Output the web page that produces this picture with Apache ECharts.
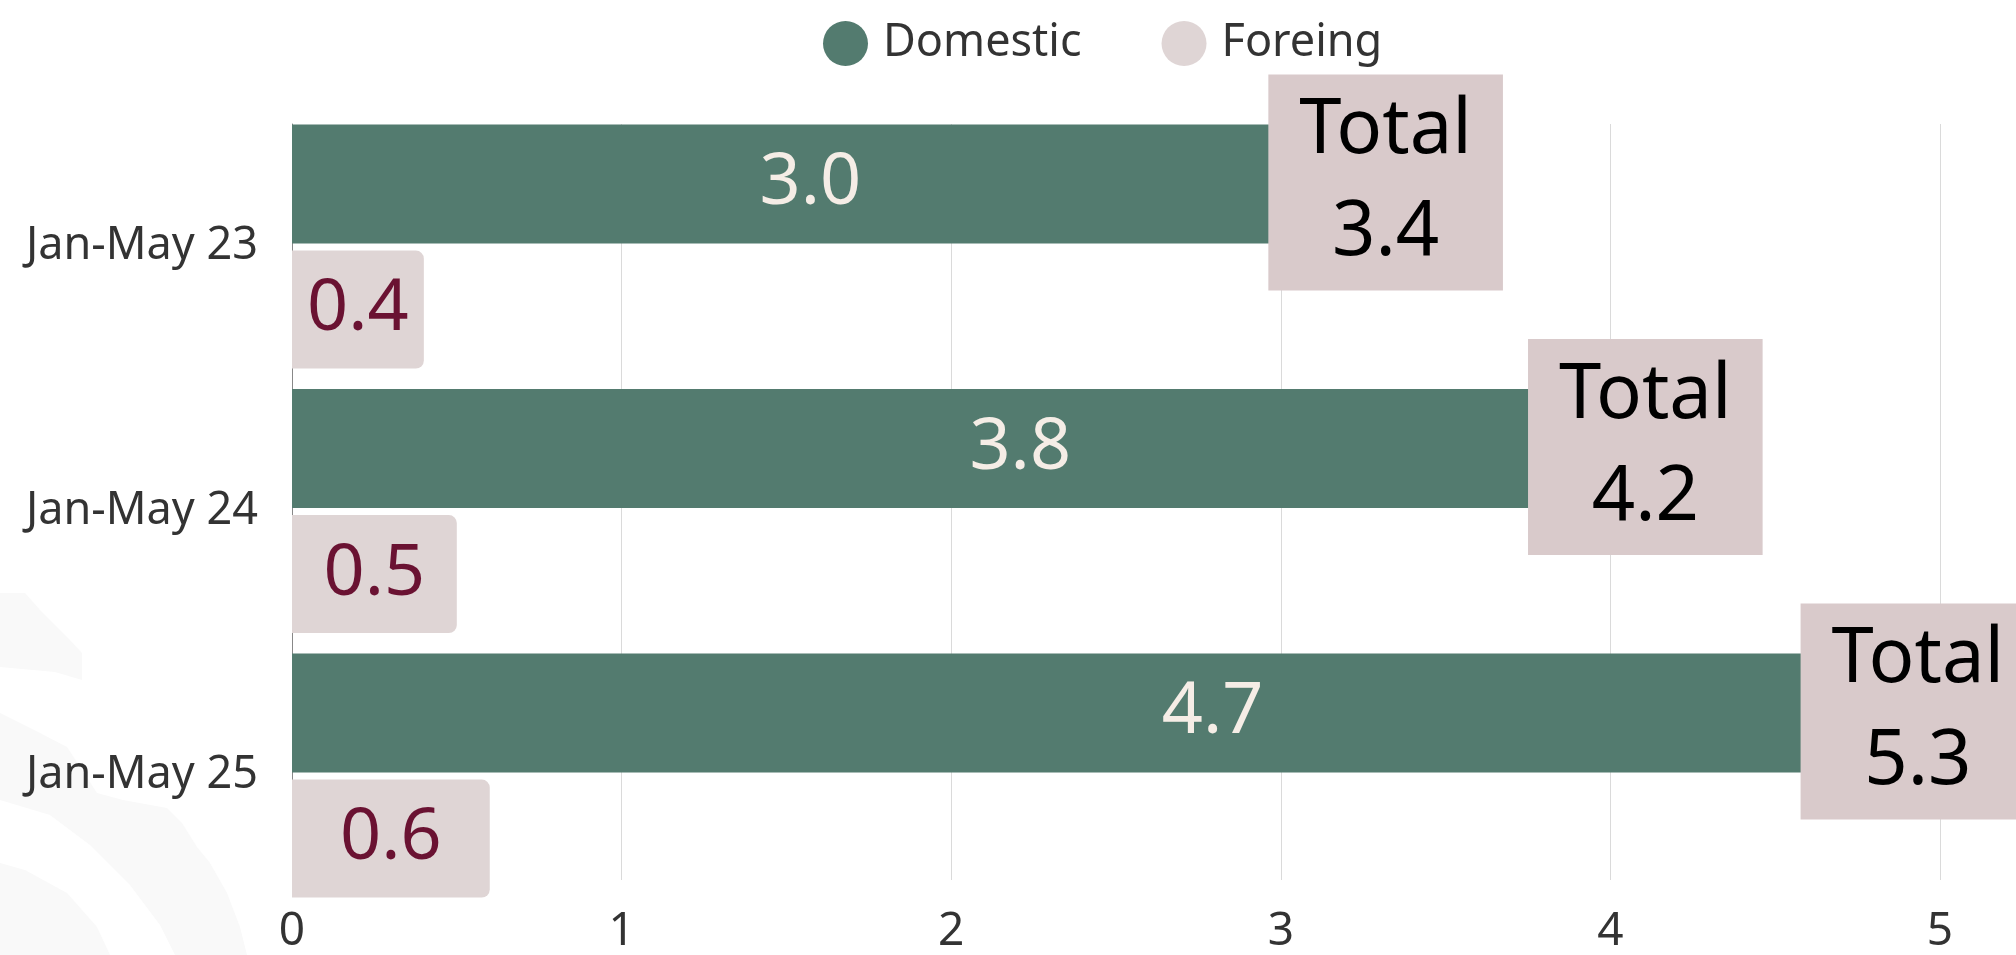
<!DOCTYPE html>
<html>
<head>
<meta charset="utf-8">
<script src="https://cdn.jsdelivr.net/npm/echarts@6/dist/echarts.min.js"></script>
<style>
  html, body { margin: 0; padding: 0; background: #fff; }
  #chart { width: 2016px; height: 955px; }
</style>
</head>
<body>
<div id="chart"></div>
<script>
const categories = ['Jan-May 23', 'Jan-May 24', 'Jan-May 25'];
const domestic = [3.0, 3.8, 4.7];
const foreign = [0.4, 0.5, 0.6];
const totals = [3.4, 4.2, 5.3];
const xMax = 5;

// label nudges
const domesticShift = [24, 102, 146];
const totalShift = [-27, -31, -121];

const font = 'Noto Sans';
const chart = echarts.init(document.getElementById('chart'));

// faint watermark stripes in the bottom-left corner
const stripe = pts => ({
  type: 'polygon', silent: true, z: -10,
  shape: { points: pts },
  style: { fill: '#f9f9f9' }
});

const option = {
  backgroundColor: '#fff',
  textStyle: { fontFamily: font },
  graphic: [
    stripe([[0, 593], [25, 593], [40, 610], [67, 637], [82, 653], [82, 680], [55, 672], [0, 667]]),
    stripe([[0, 713], [40, 733], [67, 747], [97, 793], [123, 800], [167, 808], [182, 823], [197, 847],
            [210, 863], [227, 893], [240, 927], [247, 955], [175, 955], [160, 925], [130, 885],
            [90, 845], [50, 815], [0, 800]]),
    stripe([[0, 863], [25, 870], [67, 893], [97, 927], [110, 955], [0, 955]])
  ],
  legend: {
    left: 818,
    top: 16,
    icon: 'circle',
    itemWidth: 45,
    itemHeight: 45,
    itemGap: 80,
    textStyle: { fontSize: 45, color: '#333', fontFamily: font, padding: [0, 0, 0, 10] },
    data: ['Domestic', 'Foreing']
  },
  grid: [
    { left: 292, right: 76, top: 114.25, bottom: 47.25 },
    { left: 292, right: 76, top: 124, bottom: 58 }
  ],
  xAxis: [
    {
      gridIndex: 0, type: 'value', min: 0, max: xMax, interval: 1,
      axisLine: { show: false }, axisTick: { show: false },
      axisLabel: { show: false }, splitLine: { show: false }
    },
    {
      gridIndex: 1, type: 'value', min: 0, max: xMax, interval: 1,
      axisLine: { show: false }, axisTick: { show: false },
      axisLabel: { fontSize: 46, color: '#333', margin: 29, fontFamily: font },
      splitLine: { show: true, lineStyle: { color: '#dadada', width: 1 } }
    }
  ],
  yAxis: [
    {
      gridIndex: 0, type: 'category', data: categories, inverse: true,
      axisLine: { show: false }, axisTick: { show: false },
      axisLabel: { fontSize: 45, color: '#333', margin: 34, fontFamily: font }
    },
    {
      gridIndex: 1, type: 'value', min: 0, max: 1,
      axisLine: { show: true, lineStyle: { color: '#888', width: 1 } },
      axisTick: { show: false }, axisLabel: { show: false }, splitLine: { show: false }
    }
  ],
  series: [
    {
      name: 'Domestic',
      type: 'bar',
      xAxisIndex: 0, yAxisIndex: 0,
      barWidth: 119,
      barGap: '6%',
      itemStyle: { color: '#537b6f' },
      data: domestic.map((v, i) => ({
        value: v,
        label: { offset: [domesticShift[i], 0] }
      })),
      label: {
        show: true,
        position: 'inside',
        fontSize: 72,
        color: '#f5ede6',
        fontFamily: font,
        formatter: p => p.value.toFixed(1)
      }
    },
    {
      name: 'Foreing',
      type: 'bar',
      xAxisIndex: 0, yAxisIndex: 0,
      barWidth: 118,
      itemStyle: { color: '#dfd5d5', borderRadius: [0, 8, 8, 0] },
      data: foreign,
      label: {
        show: true,
        position: 'inside',
        fontSize: 72,
        color: '#6a1232',
        fontFamily: font,
        formatter: p => p.value.toFixed(1)
      }
    },
    {
      name: 'Total',
      type: 'scatter',
      xAxisIndex: 0, yAxisIndex: 0,
      clip: false,
      symbolSize: 1,
      itemStyle: { color: 'rgba(0,0,0,0)', opacity: 1 },
      emphasis: { disabled: true },
      z: 5,
      data: totals.map((v, i) => ({
        value: [v, categories[i]],
        label: { offset: [totalShift[i], -64] }
      })),
      label: {
        show: true,
        position: 'inside',
        fontSize: 76,
        lineHeight: 102,
        color: '#000',
        fontFamily: font,
        align: 'center',
        backgroundColor: '#d9cacb',
        padding: [6, 31],
        formatter: p => 'Total\n' + p.value[0].toFixed(1)
      }
    }
  ]
};

chart.setOption(option);
</script>
</body>
</html>
